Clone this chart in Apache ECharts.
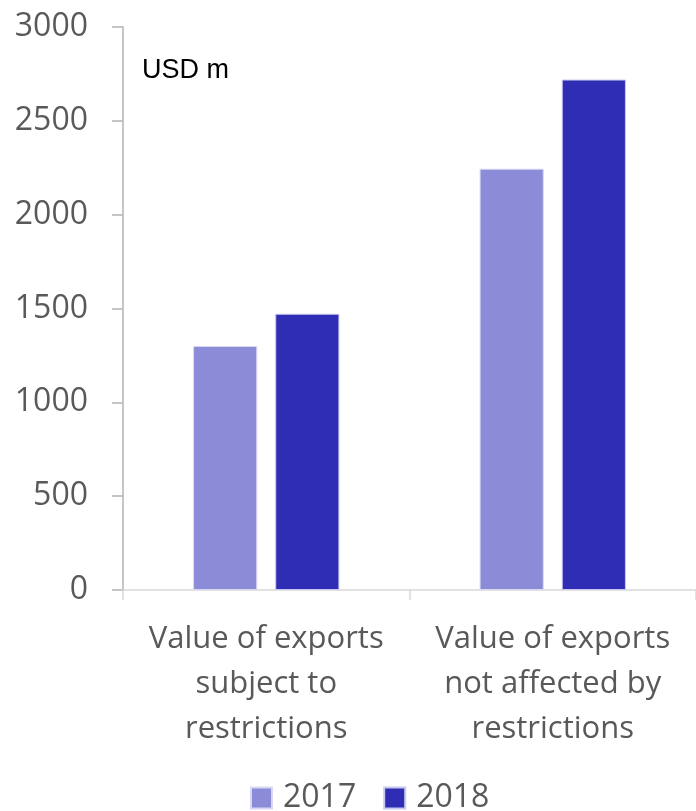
<!DOCTYPE html>
<html><head><meta charset="utf-8">
<script src="https://cdn.jsdelivr.net/npm/echarts@6/dist/echarts.min.js"></script>
<style>html,body{margin:0;padding:0;background:#fff}#c{width:696px;height:811px}</style>
</head><body><div id="c"></div>
<script>
const categories = ['Value of exports\nsubject to\nrestrictions', 'Value of exports\nnot affected by\nrestrictions'];
const seriesNames = ['2017', '2018'];
const values2017 = [1300, 2245];
const values2018 = [1472, 2720];
const colors = ['#8B8BD8', '#2E2DB3'];

const chart = echarts.init(document.getElementById('c'), null, {renderer: 'canvas'});
const font = '"Open Sans", Lato, sans-serif';
chart.setOption({
  animation: false,
  title: {
    text: 'USD m', left: 137, top: 52,
    textStyle: {fontFamily: 'Liberation Sans, Arial, sans-serif', fontSize: 27, fontWeight: 'normal', color: '#000'}
  },
  grid: {left: 123, right: -3, top: 27, bottom: 221, containLabel: false},
  legend: {
    data: seriesNames, left: 250, top: 782, padding: 0, itemWidth: 21, itemHeight: 21, itemGap: 27,
    icon: 'rect',
    textStyle: {fontFamily: font, fontSize: 32, lineHeight: 32, color: '#595959', padding: [0, 0, 0, 6]}
  },
  xAxis: {
    type: 'category', data: categories,
    axisLine: {lineStyle: {color: '#d9d9d9', width: 1.5}},
    axisTick: {show: true, length: 10, lineStyle: {color: '#d9d9d9', width: 1.5}},
    axisLabel: {fontFamily: font, fontSize: 31, color: '#595959', lineHeight: 45, margin: 27, interval: 0}
  },
  yAxis: {
    type: 'value', min: 0, max: 3000, interval: 500,
    axisLine: {show: true, lineStyle: {color: '#b3b3b3', width: 1.5}},
    axisTick: {show: true, length: 11, lineStyle: {color: '#b3b3b3', width: 1.5}},
    splitLine: {show: false},
    axisLabel: {fontFamily: font, fontSize: 32, color: '#595959', margin: 35, formatter: v => String(v)}
  },
  series: [
    {name: seriesNames[0], type: 'bar', data: values2017, barWidth: '22.4%', barGap: '28%',
     itemStyle: {color: colors[0], borderColor: '#d8d8f4', borderWidth: 1}},
    {name: seriesNames[1], type: 'bar', data: values2018, barWidth: '22.4%', barGap: '28%',
     itemStyle: {color: colors[1], borderColor: '#c8c8f0', borderWidth: 1}}
  ]
});
</script></body></html>
